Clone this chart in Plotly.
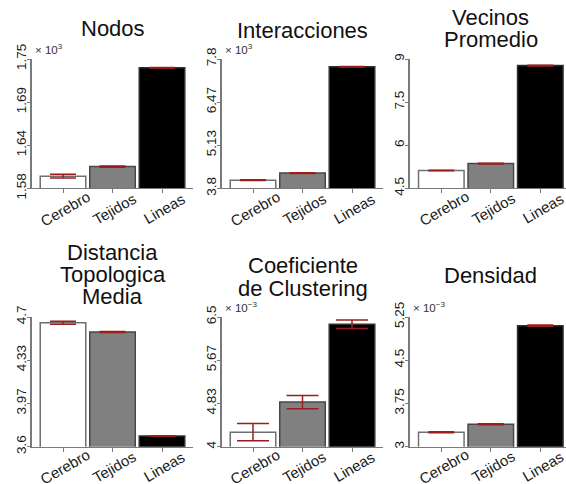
import plotly.graph_objects as go

W, H = 566, 484
FONT = "Liberation Sans, Arial, sans-serif"

# ---- data (values in the units shown on each axis) ----
grupos = ["Cerebro", "Tejidos", "Lineas"]

nodos = [1.596, 1.6086, 1.7386]            # x 10^3
nodos_err = [0.0025, 0.0008, 0.0003]

interacciones = [4.05, 4.27, 7.56]         # x 10^3
interacciones_err = [0.012, 0.01, 0.01]

vecinos = [5.12, 5.36, 8.77]
vecinos_err = [0.01, 0.01, 0.01]

distancia = [4.652, 4.572, 3.69]
distancia_err = [0.013, 0.004, 0.002]

clustering = [4.28, 4.86, 6.36]            # x 10^-3
clustering_err = [0.167, 0.129, 0.084]

densidad = [3.25, 3.39, 5.10]              # x 10^-3
densidad_err = [0.01, 0.01, 0.01]

# axis tick labels
nodos_ticks = ["1.58", "1.64", "1.69", "1.75"]
interacciones_ticks = ["3.8", "5.13", "6.47", "7.8"]
vecinos_ticks = ["4.5", "6", "7.5", "9"]
distancia_ticks = ["3.6", "3.97", "4.33", "4.7"]
clustering_ticks = ["4", "4.83", "5.67", "6.5"]
densidad_ticks = ["3", "3.75", "4.5", "5.25"]

# ---- styling ----
fill = ["#ffffff", "#808080", "#000000"]
edge = ["#707070", "#474747", "#303030"]
err_color = "#9e1c1c"
axis_color = "#7a7a7a"

# panel boxes in pixels: (left, right) columns and (top, bottom) rows
TOP = (59, 188.3)
BOT = (317, 446.7)
COLS = [(31.7, 193.3), (221.7, 383.3), (410.0, 566.0)]
STEP = 49.5      # pixels per category
LEFT_PAD = 31.3  # pixels from axis to first category centre

panels = [
    dict(title=["Nodos"], ty=[29], vals=nodos, err=nodos_err,
         lim=(1.58, 1.75), ticks=nodos_ticks, mult="× 10<sup>3</sup>", row=TOP, col=COLS[0], cw=13),
    dict(title=["Interacciones"], ty=[30], vals=interacciones, err=interacciones_err,
         lim=(3.8, 7.8), ticks=interacciones_ticks, mult="× 10<sup>3</sup>", row=TOP, col=COLS[1], cw=13),
    dict(title=["Vecinos", "Promedio"], ty=[17, 40], vals=vecinos, err=vecinos_err,
         lim=(4.5, 9.0), ticks=vecinos_ticks, mult=None, row=TOP, col=COLS[2], cw=13),
    dict(title=["Distancia", "Topologica", "Media"], ty=[252, 274, 296], vals=distancia, err=distancia_err,
         lim=(3.6, 4.7), ticks=distancia_ticks, mult=None, row=BOT, col=COLS[0], cw=13),
    dict(title=["Coeficiente", "de Clustering"], ty=[265, 288], vals=clustering, err=clustering_err,
         lim=(4.0, 6.5), ticks=clustering_ticks, mult="× 10<sup>−3</sup>", row=BOT, col=COLS[1], cw=16),
    dict(title=["Densidad"], ty=[275], vals=densidad, err=densidad_err,
         lim=(3.0, 5.25), ticks=densidad_ticks, mult="× 10<sup>−3</sup>", row=BOT, col=COLS[2], cw=13),
]


def px_x(p):
    return p / W


def px_y(p):
    return 1 - p / H


fig = go.Figure()
layout = dict(
    width=W, height=H, autosize=False,
    margin=dict(l=0, r=0, t=0, b=0, pad=0, autoexpand=False),
    paper_bgcolor="white", plot_bgcolor="white", showlegend=False,
    font=dict(family=FONT, color="#1a1a1a"),
    bargap=0.08,
)
annotations = []

for i, p in enumerate(panels, start=1):
    xa = "x" if i == 1 else f"x{i}"
    ya = "y" if i == 1 else f"y{i}"
    left, right = p["col"]
    top, bottom = p["row"]
    lo, hi = p["lim"]

    fig.add_trace(go.Bar(
        x=[0, 1, 2], y=p["vals"], xaxis=xa, yaxis=ya,
        marker=dict(color=fill, line=dict(color=edge, width=1.5)),
        error_y=dict(type="data", array=p["err"], visible=True,
                     color=err_color, thickness=1.5, width=p["cw"]),
        hoverinfo="skip",
    ))

    x0 = -LEFT_PAD / STEP
    x1 = x0 + (right - left) / STEP
    tickvals = [lo + k * (hi - lo) / 3 for k in range(4)]

    layout["xaxis" if i == 1 else f"xaxis{i}"] = dict(
        domain=[px_x(left), px_x(right)], anchor=ya, range=[x0, x1],
        tickvals=[0, 1, 2], showticklabels=False, ticks="outside", ticklen=4,
        tickcolor=axis_color, tickwidth=1, showline=True, linecolor=axis_color,
        linewidth=1.2, showgrid=False, zeroline=False, fixedrange=True,
        automargin=False,
    )
    layout["yaxis" if i == 1 else f"yaxis{i}"] = dict(
        domain=[px_y(bottom), px_y(top)], anchor=xa, range=[lo, hi],
        tickvals=tickvals, ticktext=p["ticks"], tickangle=-90,
        ticks="outside", ticklen=3, tickcolor=axis_color, tickwidth=1,
        ticklabelstandoff=-4,
        tickfont=dict(size=13.5, color="#1a1a1a"),
        showline=True, linecolor=axis_color, linewidth=1.5,
        showgrid=False, zeroline=False, fixedrange=True, automargin=False,
    )

    # panel title, one annotation per line
    cx = left + 80.8
    for line, ty in zip(p["title"], p["ty"]):
        annotations.append(dict(
            text=line, x=px_x(cx), y=px_y(ty), xref="paper", yref="paper",
            xanchor="center", yanchor="middle", showarrow=False,
            font=dict(size=22, color="#111111", family=FONT),
        ))

    # scale multiplier next to the top of the value axis
    if p["mult"]:
        annotations.append(dict(
            text=p["mult"], x=px_x(left + 1), y=px_y(top - 1), xref="paper", yref="paper",
            xanchor="left", yanchor="bottom", showarrow=False,
            font=dict(size=11.5, color="#333333", family=FONT),
        ))

    # slanted category labels
    for k, g in enumerate(grupos):
        annotations.append(dict(
            text=g, x=k + 0.05, y=px_y(bottom + 20), xref=xa, yref="paper",
            xanchor="center", yanchor="middle", textangle=-30, showarrow=False,
            font=dict(size=15, color="#1a1a1a", family=FONT),
        ))

layout["annotations"] = annotations
fig.update_layout(**layout)
fig.write_html("out.html")
